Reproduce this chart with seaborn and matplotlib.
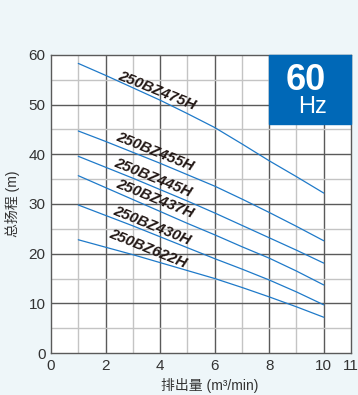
import matplotlib
matplotlib.use("Agg")
import matplotlib.pyplot as plt
import seaborn as sns
import pandas as pd

# 吐出量 (m3/min)
flow = [1, 2, 3, 4, 5, 6, 7, 8, 9, 10]

# 各机型的扬程曲线 (m)
head_475h = [58.3, 55.9, 53.4, 50.9, 48.2, 45.4, 42.1, 38.7, 35.5, 32.2]
head_455h = [44.7, 42.6, 40.4, 38.2, 35.9, 33.6, 31.0, 28.3, 25.5, 22.6]
head_445h = [39.6, 37.4, 35.2, 32.9, 30.6, 28.2, 25.7, 23.2, 20.7, 18.1]
head_437h = [35.7, 33.3, 30.9, 28.5, 26.1, 23.8, 21.4, 19.1, 16.5, 13.7]
head_430h = [29.8, 27.7, 25.6, 23.4, 21.2, 19.0, 16.9, 14.7, 12.3, 9.7]
head_622h = [22.8, 21.3, 19.8, 18.2, 16.6, 15.0, 13.2, 11.3, 9.3, 7.2]

models = ['250BZ475H', '250BZ455H', '250BZ445H', '250BZ437H', '250BZ430H', '250BZ622H']
heads = [head_475h, head_455h, head_445h, head_437h, head_430h, head_622h]

# 标签位置
label_x = [3.88, 3.81, 3.74, 3.81, 3.70, 3.55]
label_y = [52.9, 40.6, 35.2, 31.0, 25.6, 20.9]

rows = []
for m, h in zip(models, heads):
    for q, v in zip(flow, h):
        rows.append({'model': m, 'flow': q, 'head': v})
df = pd.DataFrame(rows)

sns.set_style("white")
plt.rcParams['font.family'] = ['Liberation Sans', 'Noto Sans CJK SC', 'DejaVu Sans']

bg = '#eef6f9'
blue = '#1f7ac9'

fig = plt.figure(figsize=(3.58, 3.95), dpi=100, facecolor=bg)
ax = fig.add_axes([0.1425, 0.1063, 0.838, 0.7545])
ax.set_facecolor('white')

# 网格
for x in range(1, 11):
    ax.axvline(x, color='#5a5a5a' if x % 2 == 0 else '#c4c4c4', lw=1.0, zorder=1)
for y in range(5, 60, 5):
    ax.axhline(y, color='#5a5a5a' if y % 10 == 0 else '#c4c4c4', lw=1.0, zorder=1)

sns.lineplot(data=df, x='flow', y='head', hue='model',
             palette=[blue] * len(models), linewidth=0.9,
             legend=False, ax=ax, zorder=3)

for m, lx, ly in zip(models, label_x, label_y):
    ax.text(lx, ly, m, rotation=-22, fontsize=11, fontweight='bold',
            fontstyle='italic', color='#231815', ha='center', va='center',
            zorder=4, rotation_mode='anchor')

# 60Hz 标记
ax.add_patch(plt.Rectangle((8, 46.2), 3, 13.8, color='#0068b7', zorder=5, clip_on=False))
ax.text(9.35, 54.9, '60', color='white', fontsize=26, fontweight='bold',
        ha='center', va='center', zorder=6)
ax.text(9.6, 49.5, 'Hz', color='white', fontsize=17,
        ha='center', va='center', zorder=6)

ax.set_xlim(0, 11)
ax.set_ylim(0, 60)
ax.set_xticks([0, 2, 4, 6, 8, 10, 11])
ax.set_yticks(range(0, 61, 10))
ax.tick_params(axis='both', length=0, labelsize=11, colors='#333333', pad=4)

for s in ax.spines.values():
    s.set_color('#5a5a5a')
    s.set_linewidth(1.0)

ax.set_xlabel('排出量 (m³/min)', fontsize=10, color='#333333', labelpad=4)
ax.xaxis.set_label_coords(0.53, -0.085)
ax.set_ylabel('总扬程 (m)', fontsize=10, color='#333333', labelpad=6)

fig.savefig('out.png', dpi=100, facecolor=bg)
